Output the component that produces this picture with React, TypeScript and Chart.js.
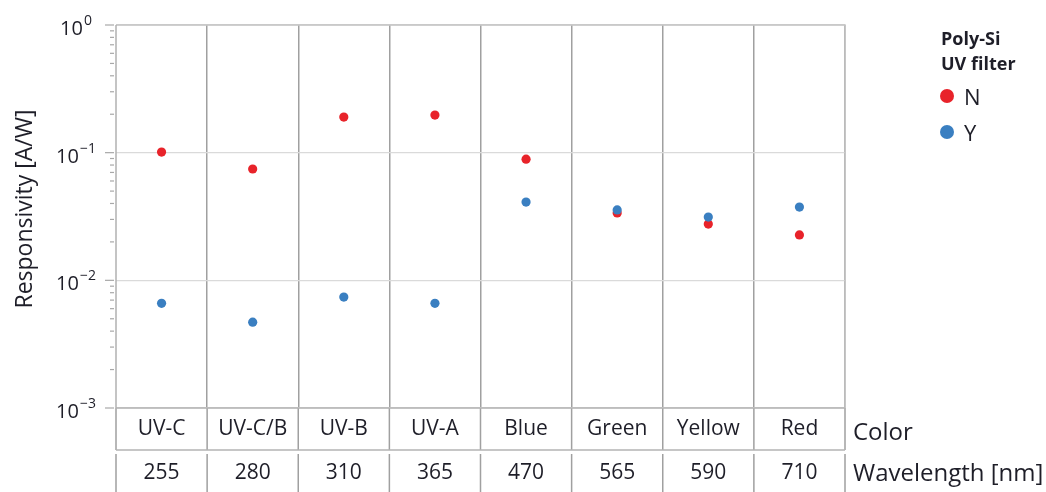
import React, { useEffect, useRef } from 'react';
import { Chart, registerables } from 'chart.js';

Chart.register(...registerables);

// Categories and table rows
const colorNames = ['UV-C', 'UV-C/B', 'UV-B', 'UV-A', 'Blue', 'Green', 'Yellow', 'Red'];
const wavelengths = ['255', '280', '310', '365', '470', '565', '590', '710'];

// Responsivity [A/W] per category, without (N) and with (Y) UV filter
const responsivityN = [0.101, 0.0745, 0.19, 0.197, 0.089, 0.0337, 0.0276, 0.0227];
const responsivityY = [0.0066, 0.0047, 0.0074, 0.0066, 0.041, 0.0356, 0.0313, 0.0375];

// Decade ticks on the log axis
const decadeTicks = [1e-3, 1e-2, 1e-1, 1e0];
const decadeExponents = ['\u22123', '\u22122', '\u22121', '0'];

const RED = '#e8232a';
const BLUE = '#3a7fc1';
const TEXT = '#1e1e28';
const FONT = '"Open Sans", "Noto Sans", sans-serif';

const tableRowHeight = 42;
const tableGap = 4;

const decorations = {
  id: 'decorations',
  beforeDatasetsDraw(chart: any) {
    const { ctx, chartArea: a } = chart;
    ctx.save();
    // plot frame
    ctx.strokeStyle = '#c4c4c4';
    ctx.lineWidth = 1.5;
    ctx.beginPath();
    ctx.moveTo(a.left, a.top);
    ctx.lineTo(a.right, a.top);
    ctx.lineTo(a.right, a.bottom);
    ctx.stroke();
    ctx.strokeStyle = '#b0b0b0';
    ctx.beginPath();
    ctx.moveTo(a.left, a.top);
    ctx.lineTo(a.left, a.bottom);
    ctx.stroke();
    ctx.restore();
  },
  afterDraw(chart: any) {
    const { ctx, chartArea: a, scales, height } = chart;
    const xs = scales.x;
    const ys = scales.y;
    ctx.save();

    // y-axis tick marks
    ctx.strokeStyle = '#a8a8a8';
    ctx.lineWidth = 1.2;
    for (let e = -3; e <= 0; e++) {
      const py = ys.getPixelForValue(Math.pow(10, e));
      ctx.beginPath();
      ctx.moveTo(a.left - 11, py);
      ctx.lineTo(a.left - 2, py);
      ctx.stroke();
      if (e < 0) {
        for (let m = 2; m <= 9; m++) {
          const pm = ys.getPixelForValue(m * Math.pow(10, e));
          ctx.beginPath();
          ctx.moveTo(a.left - 6, pm);
          ctx.lineTo(a.left - 2, pm);
          ctx.stroke();
        }
      }
    }

    // y-axis tick labels 10^n
    ctx.fillStyle = TEXT;
    ctx.textBaseline = 'alphabetic';
    decadeTicks.forEach((v, i) => {
      const py = ys.getPixelForValue(v);
      const baseFont = `20px ${FONT}`;
      const supFont = `14px ${FONT}`;
      ctx.font = baseFont;
      const wBase = ctx.measureText('10').width;
      ctx.font = supFont;
      const wSup = ctx.measureText(decadeExponents[i]).width;
      const total = wBase + 1 + wSup;
      const x0 = 76 - total / 2;
      ctx.font = baseFont;
      ctx.textAlign = 'left';
      ctx.fillText('10', x0, py + 10);
      ctx.font = supFont;
      ctx.fillText(decadeExponents[i], x0 + wBase + 1, py + 0);
    });

    // y-axis title
    ctx.save();
    ctx.translate(25, 209);
    ctx.rotate(-Math.PI / 2);
    ctx.font = `23px ${FONT}`;
    ctx.textAlign = 'center';
    ctx.textBaseline = 'middle';
    ctx.fillText('Responsivity [A/W]', 0, 0);
    ctx.restore();

    // table under the plot
    const n = colorNames.length;
    const centers = colorNames.map((_, i) => xs.getPixelForValue(i));
    const edges = [a.left];
    for (let i = 1; i < n; i++) edges.push((centers[i - 1] + centers[i]) / 2);
    edges.push(a.right);

    const row1Top = a.bottom;
    const row1Bottom = a.bottom + tableRowHeight;
    const row2Top = row1Bottom + tableGap;
    const row2Bottom = height;

    ctx.strokeStyle = '#a0a0a0';
    ctx.lineWidth = 1.5;
    edges.forEach((ex) => {
      ctx.beginPath();
      ctx.moveTo(ex, row1Top);
      ctx.lineTo(ex, row1Bottom);
      ctx.moveTo(ex, row2Top);
      ctx.lineTo(ex, row2Bottom);
      ctx.stroke();
    });
    ctx.strokeStyle = '#b4b4b4';
    ctx.beginPath();
    ctx.moveTo(a.left, row1Top);
    ctx.lineTo(a.right, row1Top);
    ctx.moveTo(a.left, row1Bottom);
    ctx.lineTo(a.right, row1Bottom);
    ctx.stroke();

    ctx.fillStyle = TEXT;
    ctx.font = `21px ${FONT}`;
    ctx.textAlign = 'center';
    ctx.textBaseline = 'middle';
    centers.forEach((cx, i) => {
      ctx.fillText(colorNames[i], cx, (row1Top + row1Bottom) / 2);
      ctx.fillText(wavelengths[i], cx, (row2Top + row2Bottom) / 2);
    });
    ctx.textAlign = 'left';
    ctx.font = `24px ${FONT}`;
    ctx.fillText('Color', a.right + 8, 433);
    ctx.fillText('Wavelength [nm]', a.right + 8, 474);

    // legend
    ctx.font = `bold 18px ${FONT}`;
    ctx.textAlign = 'left';
    ctx.textBaseline = 'middle';
    ctx.fillText('Poly-Si', 941, 40);
    ctx.fillText('UV filter', 941, 65);
    const items = [
      { label: 'N', color: RED, y: 96 },
      { label: 'Y', color: BLUE, y: 132 },
    ];
    items.forEach((it) => {
      ctx.fillStyle = it.color;
      ctx.beginPath();
      ctx.arc(947, it.y, 7, 0, Math.PI * 2);
      ctx.fill();
      ctx.fillStyle = TEXT;
      ctx.font = `22px ${FONT}`;
      ctx.fillText(it.label, 964, it.y + 3);
    });

    ctx.restore();
  },
};

export default function App() {
  const canvasRef = useRef<HTMLCanvasElement | null>(null);

  useEffect(() => {
    document.body.style.margin = '0';
    const canvas = canvasRef.current;
    if (!canvas) return;
    const chart = new Chart(canvas, {
      type: 'line',
      data: {
        labels: colorNames,
        datasets: [
          {
            label: 'N',
            data: responsivityN,
            showLine: false,
            pointRadius: 4.6,
            pointBorderWidth: 0,
            pointBackgroundColor: RED,
            backgroundColor: RED,
            borderColor: RED,
            order: 2,
          },
          {
            label: 'Y',
            data: responsivityY,
            showLine: false,
            pointRadius: 4.6,
            pointBorderWidth: 0,
            pointBackgroundColor: BLUE,
            backgroundColor: BLUE,
            borderColor: BLUE,
            order: 1,
          },
        ],
      },
      options: {
        responsive: false,
        animation: false,
        events: [],
        layout: { padding: { top: 25, right: 201, bottom: 84, left: 0 } },
        plugins: {
          legend: { display: false },
          tooltip: { enabled: false },
        },
        scales: {
          x: {
            type: 'category',
            offset: true,
            grid: {
              offset: true,
              drawTicks: false,
              lineWidth: 1.5,
              color: (c: any) =>
                c.index === 0 || c.index === colorNames.length ? 'rgba(0,0,0,0)' : '#a0a0a0',
            },
            ticks: { display: false },
            border: { display: false },
            afterFit: (s: any) => {
              s.height = 0;
            },
          },
          y: {
            type: 'logarithmic',
            min: 1e-3,
            max: 1,
            afterBuildTicks: (s: any) => {
              s.ticks = decadeTicks.map((v) => ({ value: v }));
            },
            ticks: { display: false },
            grid: {
              drawTicks: false,
              lineWidth: 1.2,
              color: '#dadada',
            },
            border: { display: false },
            afterFit: (s: any) => {
              s.width = 116;
            },
          },
        },
      },
      plugins: [decorations],
    });
    return () => chart.destroy();
  }, []);

  return (
    <div style={{ position: 'absolute', left: 0, top: 0, width: 1046, height: 492 }}>
      <canvas ref={canvasRef} width={1046} height={492} />
    </div>
  );
}
